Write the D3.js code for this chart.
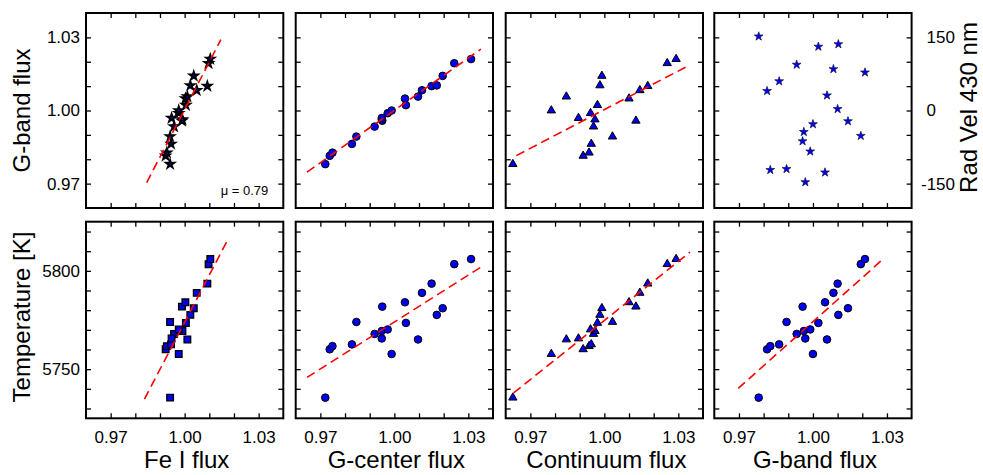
<!DOCTYPE html>
<html>
<head>
<meta charset="utf-8">
<script src="https://cdn.jsdelivr.net/npm/d3@7"></script>
<style>
  html, body { margin: 0; padding: 0; background: #fff; }
  svg text { font-family: "Liberation Sans", Arial, sans-serif; fill: #000; }
</style>
</head>
<body>
<svg id="chart" width="983" height="475"></svg>
<script>
// one entry per observed region (same order in every array)
const feI = [0.9941, 0.9923, 0.9928, 0.9945, 0.9941, 0.9957, 0.9989, 0.9991, 0.9947, 0.9976,
             0.9976, 1.0005, 1.0003, 1.0011, 1.0049, 1.0092, 1.0023, 1.0037, 1.0097, 1.0104];
const gCenter = [0.9720, 0.9738, 0.9749, 0.9828, 0.9846, 0.9920, 0.9951, 0.9949, 0.9949, 0.9973,
                 0.9989, 1.0047, 1.0043, 1.0096, 1.0112, 1.0151, 1.0172, 1.0196, 1.0243, 1.0311];
const continuum = [0.9629, 0.9914, 0.9938, 0.9947, 1.0033, 0.9956, 1.0128, 0.9962, 0.9895, 0.9944,
                   0.9785, 0.9972, 1.0100, 0.9846, 1.0144, 1.0176, 0.9982, 0.9990, 1.0255, 1.0291];
const gBand = [0.9780, 0.9814, 0.9827, 0.9863, 0.9893, 0.9934, 0.9958, 0.9963, 0.9969, 0.9989,
               1.0000, 1.0022, 1.0049, 1.0057, 1.0083, 1.0100, 1.0103, 1.0142, 1.0194, 1.0211];
const temperature = [5735.5, 5760.1, 5761.7, 5762.6, 5774.0, 5767.9, 5781.8, 5769.4, 5765.6, 5770.2,
                     5757.7, 5773.5, 5784.0, 5765.1, 5788.8, 5793.5, 5777.6, 5781.0, 5803.4, 5806.0];
const radVel = [152, 40, -122, 60, -120, 94, -63, -44, -147, -84,
                -28, 131, -127, 31, 85, 3, 136, -22, -52, 78];

// dashed linear fits, [[x0, y0], [x1, y1]]
const fitFeGband = [[0.9846, 0.9704], [1.0147, 1.0291]];
const fitGcGband = [[0.9646, 0.9747], [1.0351, 1.0252]];
const fitContGband = [[0.9643, 0.9815], [1.0347, 1.0187]];
const fitFeTemp = [[0.9837, 5734.8], [1.0171, 5814.9]];
const fitGcTemp = [[0.9646, 5745.8], [1.0351, 5801.9]];
const fitContTemp = [[0.9632, 5737.9], [1.0347, 5809.5]];
const fitGbTemp = [[0.9697, 5740.2], [1.0289, 5806.5]];

const fluxTicks = [0.97, 0.98, 0.99, 1.00, 1.01, 1.02, 1.03];
const fluxLabels = [0.97, 1.00, 1.03];
const tempTicks = [5730, 5740, 5750, 5760, 5770, 5780, 5790, 5800, 5810, 5820];
const tempLabels = [5750, 5800];
const rvTicks = [-150, -100, -50, 0, 50, 100, 150];
const rvLabels = [-150, 0, 150];
const xTitles = ["Fe I flux", "G-center flux", "Continuum flux", "G-band flux"];

const svg = d3.select("#chart");
const colX = [86, 295.7, 505.7, 714.3];
const panelW = 197.3;
const rowY = [13, 221.7];
const rowH = [195, 196.6];
const blue = "#0000f0";

const panels = [
  {col: 0, row: 0, xs: feI, ys: gBand, yKind: "flux", mark: "bigstar", fit: fitFeGband, mu: true},
  {col: 1, row: 0, xs: gCenter, ys: gBand, yKind: "flux", mark: "circle", fit: fitGcGband},
  {col: 2, row: 0, xs: continuum, ys: gBand, yKind: "flux", mark: "triangle", fit: fitContGband},
  {col: 3, row: 0, xs: gBand, ys: radVel, yKind: "rv", mark: "star"},
  {col: 0, row: 1, xs: feI, ys: temperature, yKind: "temp", mark: "square", fit: fitFeTemp},
  {col: 1, row: 1, xs: gCenter, ys: temperature, yKind: "temp", mark: "circle", fit: fitGcTemp},
  {col: 2, row: 1, xs: continuum, ys: temperature, yKind: "temp", mark: "triangle", fit: fitContTemp},
  {col: 3, row: 1, xs: gBand, ys: temperature, yKind: "temp", mark: "circle", fit: fitGbTemp}
];

const yDomains = {flux: [0.96, 1.04], temp: [5725, 5825], rv: [-200, 200]};
const yTicks = {flux: fluxTicks, temp: tempTicks, rv: rvTicks};

panels.forEach(p => {
  const left = colX[p.col], top = rowY[p.row], h = rowH[p.row];
  const x = d3.scaleLinear().domain([0.96, 1.04]).range([left, left + panelW]);
  const y = d3.scaleLinear().domain(yDomains[p.yKind]).range([top + h, top]);
  const g = svg.append("g");

  // inward ticks on all four sides
  const noLab = () => "";
  const bottom = d3.axisBottom(x).tickValues(fluxTicks).tickSizeInner(-5).tickSizeOuter(0).tickPadding(13)
    .tickFormat(d => (p.row === 1 && fluxLabels.some(v => Math.abs(v - d) < 1e-9)) ? d3.format(".2f")(d) : "");
  g.append("g").attr("transform", `translate(0,${top + h})`).call(bottom);
  g.append("g").attr("transform", `translate(0,${top})`)
    .call(d3.axisTop(x).tickValues(fluxTicks).tickSizeInner(-5).tickSizeOuter(0).tickFormat(noLab));

  let leftFmt = noLab;
  if (p.col === 0 && p.yKind === "flux") leftFmt = d => fluxLabels.some(v => Math.abs(v - d) < 1e-9) ? d3.format(".2f")(d) : "";
  if (p.col === 0 && p.yKind === "temp") leftFmt = d => tempLabels.includes(d) ? String(d) : "";
  g.append("g").attr("transform", `translate(${left},0)`)
    .call(d3.axisLeft(y).tickValues(yTicks[p.yKind]).tickSizeInner(-5).tickSizeOuter(0).tickPadding(6).tickFormat(leftFmt));

  const rightFmt = p.yKind === "rv" ? (d => rvLabels.includes(d) ? String(d) : "") : noLab;
  const ra = g.append("g").attr("transform", `translate(${left + panelW},0)`)
    .call(d3.axisRight(y).tickValues(yTicks[p.yKind]).tickSizeInner(-5).tickSizeOuter(0).tickPadding(15).tickFormat(rightFmt));
  ra.selectAll("text").attr("dx", d => d < 0 ? "-0.33em" : 0);

  g.selectAll(".domain").remove();
  g.selectAll(".tick line").attr("stroke", "#000").attr("stroke-width", 1.3);
  g.selectAll(".tick text").style("font-size", "17px").attr("fill", "#000");

  // points
  const pts = p.xs.map((v, i) => [v, p.ys[i]]);
  const mk = g.append("g");
  if (p.mark === "circle") {
    mk.selectAll("circle").data(pts).enter().append("circle")
      .attr("cx", d => x(d[0])).attr("cy", d => y(d[1])).attr("r", 3.8)
      .attr("fill", blue).attr("stroke", "#000").attr("stroke-width", 1);
  } else {
    const sym = {
      square: d3.symbol(d3.symbolSquare, 44),
      triangle: d3.symbol(d3.symbolTriangle, 30),
      star: d3.symbol(d3.symbolStar, 24),
      bigstar: d3.symbol(d3.symbolStar, 22)
    }[p.mark];
    const sw = {square: 1.3, triangle: 1, star: 0.7, bigstar: 1.8}[p.mark];
    const sc = p.mark === "star" ? "#10104a" : "#000";
    mk.selectAll("path").data(pts).enter().append("path")
      .attr("d", sym).attr("transform", d => `translate(${x(d[0])},${y(d[1])})`)
      .attr("fill", blue).attr("stroke", sc).attr("stroke-width", sw).attr("stroke-linejoin", "miter");
  }

  if (p.fit) {
    g.append("path").datum(p.fit)
      .attr("d", d3.line().x(d => x(d[0])).y(d => y(d[1])))
      .attr("fill", "none").attr("stroke", "#ff0000").attr("stroke-width", 1.6)
      .attr("stroke-dasharray", "9,5");
  }

  g.append("rect").attr("x", left).attr("y", top).attr("width", panelW).attr("height", h)
    .attr("fill", "none").attr("stroke", "#000").attr("stroke-width", 2);

  if (p.mu) {
    g.append("text").attr("x", left + panelW - 15).attr("y", top + h - 13)
      .attr("text-anchor", "end").style("font-size", "13px").text("μ = 0.79");
  }
  if (p.row === 1) {
    g.append("text").attr("x", left + panelW / 2 + 2).attr("y", 468)
      .attr("text-anchor", "middle").style("font-size", "24px").text(xTitles[p.col]);
  }
});

// y titles
svg.append("text").attr("transform", `translate(30,${rowY[0] + rowH[0] / 2}) rotate(-90)`)
  .attr("text-anchor", "middle").style("font-size", "24px").text("G-band flux");
svg.append("text").attr("transform", `translate(30,${rowY[1] + rowH[1] / 2 - 3}) rotate(-90)`)
  .attr("text-anchor", "middle").style("font-size", "24px").text("Temperature [K]");
svg.append("text").attr("transform", `translate(977,${rowY[0] + rowH[0] / 2 - 3}) rotate(-90)`)
  .attr("text-anchor", "middle").style("font-size", "24px").text("Rad Vel 430 nm");
</script>
</body>
</html>
